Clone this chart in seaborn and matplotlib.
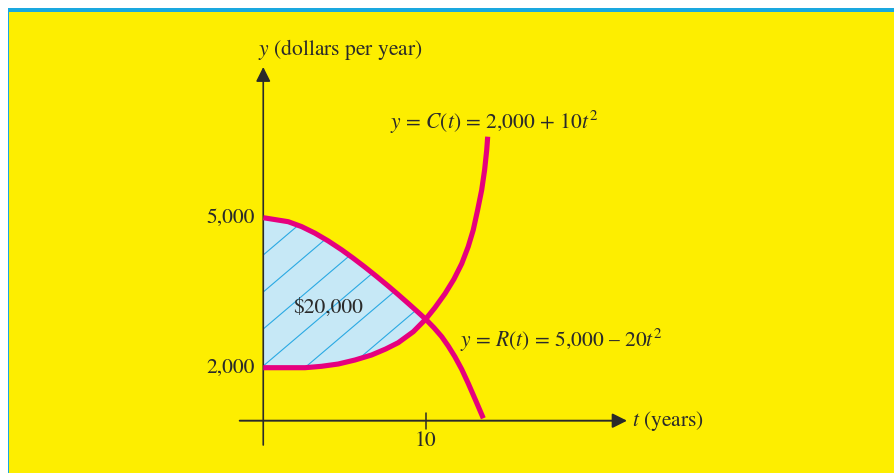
import numpy as np
import pandas as pd
import seaborn as sns
import matplotlib.pyplot as plt
from matplotlib.patches import Rectangle

# points (t in years, y in dollars per year)
c_t = [0, 2.57, 3.59, 4.62, 5.65, 6.67, 7.54, 8.31, 9.24, 10, 10.57, 11.19,
       11.74, 12.22, 12.62, 12.93, 13.20, 13.45, 13.63, 13.76, 13.82]
c_y = [2000, 2000, 2028, 2074, 2154, 2254, 2374, 2500, 2720, 2970, 3200, 3480,
       3770, 4080, 4420, 4754, 5154, 5554, 5954, 6354, 6620]
r_t = [0, 1.54, 2.36, 3.18, 4.0, 4.83, 5.54, 6.26, 6.98, 7.70, 8.31, 8.93, 9.48,
       10, 10.51, 10.99, 11.39, 11.80, 12.22, 12.62, 13.10, 13.55]
r_y = [5000, 4920, 4822, 4691, 4535, 4357, 4190, 4012, 3825, 3632, 3462, 3285, 3125,
       2970, 2800, 2620, 2434, 2220, 1968, 1688, 1330, 988]

y_ticks = [2000, 5000]
y_tick_labels = ["2,000", "5,000"]
x_ticks = [10]
x_tick_labels = ["10"]
area_label = "$20,000"

sns.set_style("white")
plt.rcParams['font.family'] = ['STIXGeneral', 'DejaVu Serif']
plt.rcParams['mathtext.fontset'] = 'stix'

yellow = "#fdee00"
cyan = "#1aa8df"
magenta = "#e6007e"
ink = "#2a2a2a"
fs = 15.5

fig = plt.figure(figsize=(8.95, 4.73), dpi=100, facecolor="white")
W, H = 895, 473
# background panel
for rect in [
    Rectangle((9 / W, 0), 1, (H - 12) / H, facecolor=yellow),
    Rectangle((8 / W, 0), 1.5 / W, (H - 8) / H, facecolor=cyan),
    Rectangle((8 / W, (H - 12) / H), 1, 4 / H, facecolor=cyan),
]:
    rect.set_transform(fig.transFigure)
    rect.set_edgecolor("none")
    rect.set_zorder(-10)
    fig.patches.append(rect)

ax = fig.add_axes([0, 0, 1, 1])
ax.set_zorder(5)
ax.set_facecolor("none")
ax.set_axis_off()
ax.set_xlim(-16.21, 38.9)
ax.set_ylim(-106, 9354)

# shaded region between curves
n_c = c_t.index(10)
n_r = r_t.index(10)
poly_t = c_t[:n_c + 1] + r_t[:n_r + 1][::-1]
poly_y = c_y[:n_c + 1] + r_y[:n_r + 1][::-1]
patch = ax.fill(poly_t, poly_y, color="#c6e8f6", lw=0, zorder=1)[0]

# diagonal hatch lines clipped to the region
slope = 276.0
tt = np.array([-1, 12])
for k in range(-6, 8):
    y0 = 4254 + 740 * k
    ln, = ax.plot(tt, y0 + slope * tt, color="#2aa9e3", lw=0.8, zorder=2)
    ln.set_clip_path(patch)

# curves
df = pd.DataFrame({
    "t": c_t + r_t,
    "y": c_y + r_y,
    "curve": ["C"] * len(c_t) + ["R"] * len(r_t),
})
sns.lineplot(data=df, x="t", y="y", hue="curve", palette=[magenta, magenta],
             estimator=None, sort=False, legend=False, lw=3.7, ax=ax, zorder=4)
for l in ax.lines[-2:]:
    l.set_solid_capstyle("butt")
    l.set_solid_joinstyle("round")

# axes with arrows
x_axis_y = 940
ax.annotate("", xy=(22.4, x_axis_y), xytext=(-1.45, x_axis_y),
            arrowprops=dict(arrowstyle="-|>", mutation_scale=22, lw=1.4, color=ink,
                            shrinkA=0, shrinkB=0), zorder=3)
ax.annotate("", xy=(0, 8014), xytext=(0, 454),
            arrowprops=dict(arrowstyle="-|>", mutation_scale=22, lw=1.2, color=ink,
                            shrinkA=0, shrinkB=0), zorder=3)

for xt, lab in zip(x_ticks, x_tick_labels):
    ax.plot([xt, xt], [x_axis_y - 160, x_axis_y + 160], color=ink, lw=1.1, zorder=3)
    ax.text(xt, 534, lab, ha="center", va="center", fontsize=fs, color=ink)
for yt, lab in zip(y_ticks, y_tick_labels):
    ax.text(-0.5, yt, lab, ha="right", va="center", fontsize=fs, color=ink)

ax.text(-0.3, 8354, r"$y$ (dollars per year)", ha="left", va="center", fontsize=fs, color=ink)
ax.text(22.7, x_axis_y, r"$t$ (years)", ha="left", va="center", fontsize=fs, color=ink)
ax.text(7.8, 6914, r"$y$ = $C$($t$) = 2,000 + 10$t^2$", ha="left", va="center",
        fontsize=fs, color=ink)
ax.text(12.1, 2554, r"$y$ = $R$($t$) = 5,000 – 20$t^2$", ha="left", va="center",
        fontsize=fs, color=ink)
ax.text(4.0, 3194, area_label.replace("$", r"\$"), ha="center", va="center",
        fontsize=fs, color=ink, zorder=5)

fig.savefig("out.png", dpi=100, facecolor="white")
